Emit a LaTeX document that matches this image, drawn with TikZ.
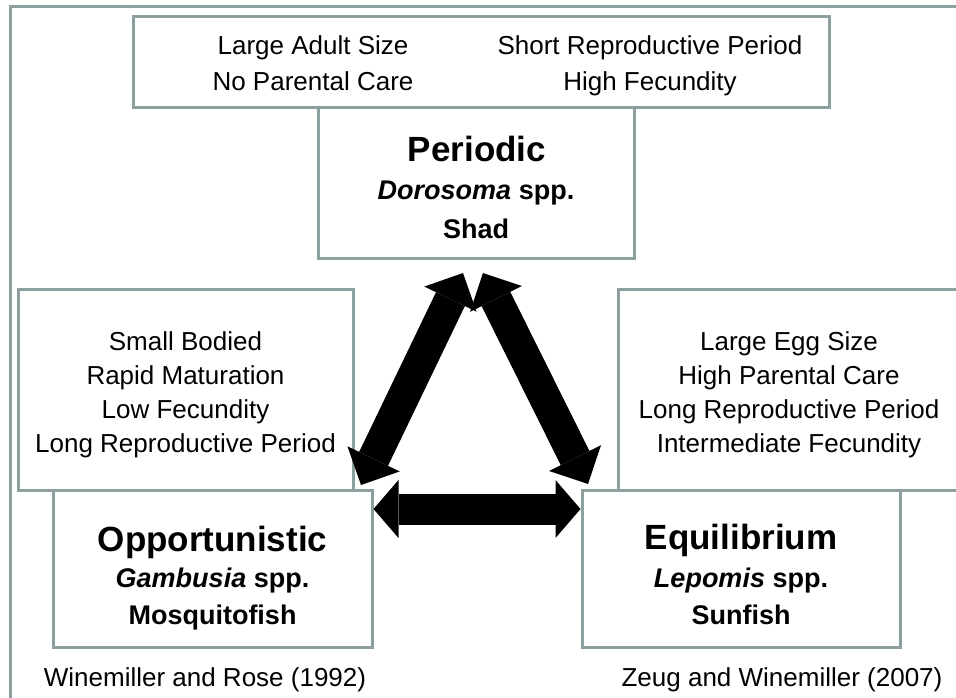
\documentclass[tikz,border=0pt]{standalone}
\usepackage{fontspec}
\setmainfont{Liberation Sans}
\usetikzlibrary{arrows.meta,calc}
\definecolor{framecol}{RGB}{140,160,160}
\begin{document}
\begin{tikzpicture}[x=1pt,y=-1pt,
  box/.style={draw=framecol, line width=3pt, fill=white, inner sep=0pt, rectangle},
  trait/.style={font=\fontsize{26}{30}\selectfont, anchor=base, inner sep=0pt},
  ttl/.style={font=\fontsize{35}{40}\selectfont\bfseries, anchor=base, inner sep=0pt},
  sub/.style={font=\fontsize{27}{32}\selectfont\bfseries, anchor=base, inner sep=0pt},
  dbl/.style={line width=31pt, black, {Triangle[length=25pt,width=58pt,line width=0pt]}-{Triangle[length=25pt,width=58pt,line width=0pt]}},
  dbld/.style={line width=32pt, black, {Triangle[length=29pt,width=58pt,line width=0pt]}-{Triangle[length=29pt,width=58pt,line width=0pt]}},
]
\useasboundingbox (0,0) rectangle (956,698);
\fill[white] (0,0) rectangle (956,698);
% outer frame
\draw[framecol, line width=3pt] (10,720) -- (10,7) -- (980,7);

% boxes
\node[box, minimum width=696pt, minimum height=91pt] (top) at (481,62.5) {};
\node[box, minimum width=316pt, minimum height=150pt] (per) at (476,183) {};
\node[box, minimum width=335pt, minimum height=201pt] (lt) at (185.5,389.5) {};
\node[box, minimum width=352pt, minimum height=201pt] (rt) at (794,389.5) {};
\node[box, minimum width=319pt, minimum height=157pt] (opp) at (212.5,568.5) {};
\node[box, minimum width=318pt, minimum height=157pt] (eq) at (741,568.5) {};

% top traits
\node[trait] (t1) at (313,55) {Large Adult Size};
\node[trait] (t2) at (313,91) {No Parental Care};
\node[trait] (t3) at (650,55) {Short Reproductive Period};
\node[trait] (t4) at (650,91) {High Fecundity};

% periodic
\node[ttl] (p1) at (477,161) {Periodic};
\node[sub] (p2) at (476,200) {\textit{Dorosoma} spp.};
\node[sub] (p3) at (476,238) {Shad};

% left traits
\node[trait] (l1) at (185.5,350) {Small Bodied};
\node[trait] (l2) at (185.5,384) {Rapid Maturation};
\node[trait] (l3) at (185.5,418) {Low Fecundity};
\node[trait] (l4) at (185.5,452) {Long Reproductive Period};

% right traits
\node[trait] (r1) at (789,350) {Large Egg Size};
\node[trait] (r2) at (789,384) {High Parental Care};
\node[trait] (r3) at (789,418) {Long Reproductive Period};
\node[trait] (r4) at (789,452) {Intermediate Fecundity};

% opportunistic
\node[ttl] (o1) at (212.5,551) {Opportunistic};
\node[sub] (o2) at (212.5,587) {\textit{Gambusia} spp.};
\node[sub] (o3) at (212.5,624) {Mosquitofish};

% equilibrium
\node[ttl] (e1) at (741,549) {Equilibrium};
\node[sub] (e2) at (741,587) {\textit{Lepomis} spp.};
\node[sub] (e3) at (741,624) {Sunfish};

% citations
\node[trait] (c1) at (205,686) {Winemiller and Rose (1992)};
\node[trait] (c2) at (782,686) {Zeug and Winemiller (2007)};

% arrow end points
\coordinate (aTL) at (463,273);
\coordinate (aBL) at (361,485);
\coordinate (aTR) at (483,273);
\coordinate (aBR) at (588,484);
\coordinate (hL) at ($(opp.north east)+(0,20.5)$);
\coordinate (hR) at ($(eq.north west)+(0,20.5)$);

\draw[dbld] (aBL) -- (aTL);
\draw[dbld] (aTR) -- (aBR);
\draw[dbl] (hL) -- (hR);
\end{tikzpicture}
\end{document}
